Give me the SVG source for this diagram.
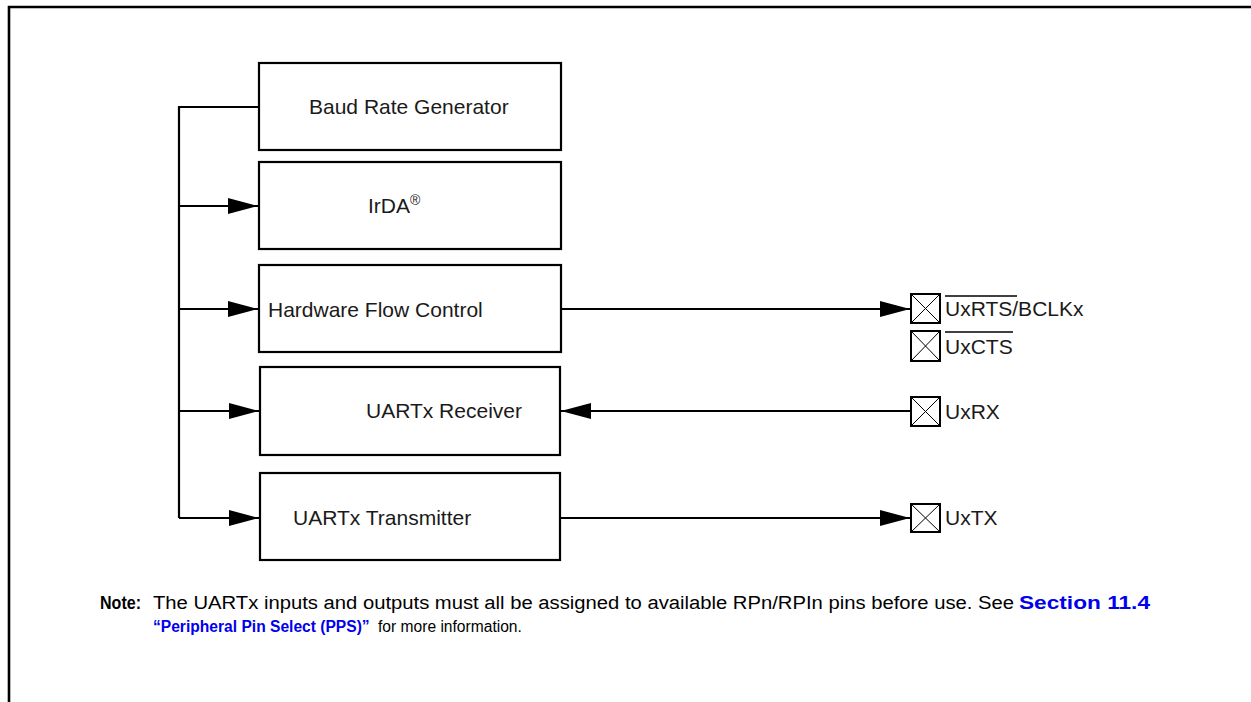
<svg xmlns="http://www.w3.org/2000/svg" width="1251" height="702" viewBox="0 0 1251 702">
<style>
.box{fill:#fff;stroke:#000;stroke-width:2.2}
.wire{fill:none;stroke:#000;stroke-width:2.2}
.lbl{font-family:"Liberation Sans",Arial,sans-serif;font-size:21px;fill:#1a1a1a}
.pin{fill:#fff;stroke:#000;stroke-width:2}
.x{stroke:#000;stroke-width:1}
.note{font-family:"Liberation Sans",Arial,sans-serif;font-size:18px;fill:#000}
.note2{font-family:"Liberation Sans",Arial,sans-serif;font-size:15.6px;fill:#000}
.blue{fill:#0000ee;font-weight:bold}
</style>
<defs>
<marker id="ah" viewBox="0 0 30 16" refX="30" refY="8" markerWidth="30" markerHeight="16" markerUnits="userSpaceOnUse" orient="auto">
<path d="M0,0 L30,8 L0,16 z" fill="#000"/>
</marker>
</defs>
<rect width="1251" height="702" fill="#fff"/>
<path d="M9,702 V7 H1251" fill="none" stroke="#000" stroke-width="2.6"/>

<g id="baud"><rect class="box" x="259" y="63" width="302" height="87"/><text class="lbl" x="309" y="114">Baud Rate Generator</text></g>
<g id="irda"><rect class="box" x="259" y="162" width="302" height="87"/><text class="lbl" x="368" y="213">IrDA<tspan font-size="14" dy="-8">®</tspan></text></g>
<g id="hfc"><rect class="box" x="259" y="265" width="302" height="87"/><text class="lbl" x="268" y="317">Hardware Flow Control</text></g>
<g id="rx"><rect class="box" x="260" y="367" width="300" height="88"/><text class="lbl" x="366" y="418">UARTx Receiver</text></g>
<g id="tx"><rect class="box" x="260" y="473" width="300" height="87"/><text class="lbl" x="293" y="525">UARTx Transmitter</text></g>

<g id="pin-rts"><rect class="pin" x="911" y="294" width="29" height="29"/><path class="x" d="M911,294 L940,323 M940,294 L911,323"/><text class="lbl" x="945" y="316">UxRTS/BCLKx</text><line x1="945" y1="296" x2="1017" y2="296" stroke="#000" stroke-width="1.5"/></g>
<g id="pin-cts"><rect class="pin" x="911" y="331" width="29" height="30"/><path class="x" d="M911,331 L940,361 M940,331 L911,361"/><text class="lbl" x="945" y="354">UxCTS</text><line x1="945" y1="332" x2="1013" y2="332" stroke="#000" stroke-width="1.5"/></g>
<g id="pin-rx"><rect class="pin" x="911" y="397" width="29" height="29"/><path class="x" d="M911,397 L940,426 M940,397 L911,426"/><text class="lbl" x="945" y="419">UxRX</text></g>
<g id="pin-tx"><rect class="pin" x="911" y="504" width="29" height="28"/><path class="x" d="M911,504 L940,532 M940,504 L911,532"/><text class="lbl" x="945" y="525">UxTX</text></g>

<g id="connectors">
<path class="wire" d="M259,107 H179 V518"/>
<path class="wire" d="M179,206 H258" marker-end="url(#ah)"/>
<path class="wire" d="M179,309 H258" marker-end="url(#ah)"/>
<path class="wire" d="M179,411 H259" marker-end="url(#ah)"/>
<path class="wire" d="M179,518 H259" marker-end="url(#ah)"/>
<path class="wire" d="M561,309 H910" marker-end="url(#ah)"/>
<path class="wire" d="M911,411 H561" marker-end="url(#ah)"/>
<path class="wire" d="M560,518 H910" marker-end="url(#ah)"/>
</g>

<g id="note">
<text class="note" x="100" y="609" font-weight="bold" textLength="41" lengthAdjust="spacingAndGlyphs">Note:</text>
<text class="note" x="153" y="609" textLength="861" lengthAdjust="spacingAndGlyphs">The UARTx inputs and outputs must all be assigned to available RPn/RPIn pins before use. See</text>
<text class="note blue" x="1019" y="609" textLength="131" lengthAdjust="spacingAndGlyphs">Section 11.4</text>
<text class="note2 blue" x="153" y="632">“Peripheral Pin Select (PPS)”</text>
<text class="note2" x="378" y="632">for more information.</text>
</g>
</svg>
